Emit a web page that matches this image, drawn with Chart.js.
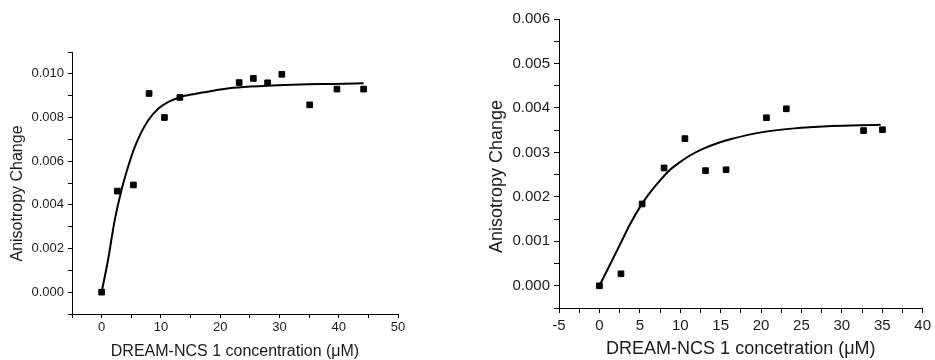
<!DOCTYPE html>
<html>
<head>
<meta charset="utf-8">
<script src="https://cdn.jsdelivr.net/npm/chart.js@4.4.1/dist/chart.umd.min.js"></script>
<style>
  html, body { margin: 0; padding: 0; background: #fff; overflow: hidden; }
  #wrap { position: relative; width: 935px; height: 360px; }
  canvas { position: absolute; top: 0; }
  #left { left: 0; }
  #right { left: 467px; }
</style>
</head>
<body>
<div id="wrap">
  <canvas id="left" width="467" height="360"></canvas>
  <canvas id="right" width="468" height="360"></canvas>
</div>
<script>
// panel 1: DREAM-NCS 1 concentration vs anisotropy change
const leftConc = [0, 2.65, 5.36, 8.0, 10.6, 13.2, 23.2, 25.6, 28.0, 30.4, 35.1, 39.7, 44.2];
const leftAniso = [0, 0.00463, 0.00491, 0.00910, 0.00800, 0.00892, 0.00960, 0.00979, 0.00959, 0.00998, 0.00858, 0.00930, 0.00930];
const leftFitX = [0, 1.07, 2.2, 3.33, 4.45, 5.58, 6.71, 7.84, 9.53, 11.2, 13.2, 15.7, 17.4, 22.2, 27.9, 33.5, 39.1, 44.2];
const leftFitY = [0, 0.00146, 0.00329, 0.00466, 0.00573, 0.00664, 0.00733, 0.00786, 0.00840, 0.00870, 0.00893, 0.00908, 0.00916, 0.00936, 0.00945, 0.00951, 0.00954, 0.00957];

// panel 2
const rightConc = [0, 2.67, 5.29, 8.0, 10.58, 13.13, 15.67, 20.67, 23.13, 32.69, 35.03];
const rightAniso = [0, 0.00027, 0.00184, 0.00265, 0.00331, 0.00259, 0.00261, 0.00378, 0.00398, 0.00349, 0.00351];
const rightFitX = [0, 1.35, 2.58, 3.81, 5.05, 6.28, 7.51, 8.74, 9.97, 11.2, 12.8, 14.5, 16.3, 20.0, 24.1, 28.2, 32.3, 34.8];
const rightFitY = [0, 0.00049, 0.00094, 0.00139, 0.00178, 0.00210, 0.00237, 0.00261, 0.00278, 0.00293, 0.00308, 0.00320, 0.00330, 0.00345, 0.00354, 0.00359, 0.00361, 0.00362];

const yTitle = 'Anisotropy Change';
const leftXTitle = 'DREAM-NCS 1 concentration (\u03BCM)';
const rightXTitle = 'DREAM-NCS 1 concetration (\u03BCM)';

const FONT = '"Liberation Sans", Arial, sans-serif';
Chart.defaults.font.family = FONT;
Chart.defaults.color = '#1a1a1a';

// vertical axis title, drawn by hand so it can sit a bit below the axis middle
const sideTitle = {
  id: 'sideTitle',
  afterDraw(chart, args, o) {
    const ctx = chart.ctx;
    ctx.save();
    ctx.translate(o.x, o.y);
    ctx.rotate(-Math.PI / 2);
    ctx.textAlign = 'center';
    ctx.textBaseline = 'middle';
    ctx.font = o.size + 'px ' + FONT;
    ctx.fillStyle = '#1a1a1a';
    ctx.fillText(o.text, 0, 0);
    ctx.restore();
  }
};

function toPoints(xs, ys) {
  return xs.map((x, i) => ({ x: x, y: ys[i] }));
}

function makePanel(canvasId, opts) {
  const axisGrid = {
    drawOnChartArea: false,
    drawTicks: true,
    tickLength: opts.tickLen,
    color: '#000',
    lineWidth: 1
  };
  const axisBorder = { display: true, color: '#000', width: 1 };

  return new Chart(document.getElementById(canvasId), {
    type: 'scatter',
    data: {
      datasets: [
        {
          data: toPoints(opts.xs, opts.ys),
          pointStyle: 'rect',
          pointRadius: 4,
          pointBackgroundColor: '#000',
          pointBorderColor: '#000',
          pointBorderWidth: 1,
          showLine: false
        },
        {
          data: toPoints(opts.fitX, opts.fitY),
          showLine: true,
          borderColor: '#000',
          borderWidth: 2,
          pointRadius: 0,
          fill: false,
          cubicInterpolationMode: 'monotone'
        }
      ]
    },
    plugins: [sideTitle],
    options: {
      responsive: false,
      animation: false,
      devicePixelRatio: 1,
      layout: { padding: opts.padding },
      plugins: {
        legend: { display: false },
        tooltip: { enabled: false },
        sideTitle: { text: yTitle, size: opts.titleSize, x: opts.yTitleX, y: opts.yTitleY }
      },
      scales: {
        x: {
          type: 'linear',
          min: opts.xMin,
          max: opts.xMax,
          grid: axisGrid,
          border: axisBorder,
          ticks: {
            stepSize: opts.xStep,
            autoSkip: false,
            maxRotation: 0,
            padding: opts.xTickPad,
            font: { size: opts.tickSize },
            callback: v => (Math.abs(v % opts.xMajor) < 1e-9 ? String(v) : '')
          },
          title: {
            display: true,
            text: opts.xTitle,
            font: { size: opts.titleSize, lineHeight: 1 },
            padding: 0
          },
          afterFit: s => { s.height = opts.xHeight; }
        },
        y: {
          type: 'linear',
          min: opts.yMin,
          max: opts.yMax,
          grid: axisGrid,
          border: axisBorder,
          ticks: {
            stepSize: opts.yStep,
            autoSkip: false,
            padding: 4,
            font: { size: opts.tickSize },
            callback: v => {
              const n = Math.round(v / opts.yStep);
              return n % 2 === 0 ? v.toFixed(3) : '';
            }
          },
          afterFit: s => { s.width = opts.yWidth; }
        }
      }
    }
  });
}

makePanel('left', {
  xs: leftConc, ys: leftAniso, fitX: leftFitX, fitY: leftFitY,
  xMin: -5, xMax: 50, xStep: 5, xMajor: 10, xTickPad: 2,
  yMin: -0.001, yMax: 0.011, yStep: 0.001,
  xTitle: leftXTitle,
  tickSize: 13, titleSize: 16, tickLen: 4,
  yTitleX: 17.5, yTitleY: 193.5,
  padding: { left: 8, top: 52, right: 69, bottom: 0 },
  yWidth: 64, xHeight: 46
});

makePanel('right', {
  xs: rightConc, ys: rightAniso, fitX: rightFitX, fitY: rightFitY,
  xMin: -5, xMax: 40, xStep: 2.5, xMajor: 5, xTickPad: 4,
  yMin: -0.0005, yMax: 0.006, yStep: 0.0005,
  xTitle: rightXTitle,
  tickSize: 15, titleSize: 18, tickLen: 5,
  yTitleX: 30.5, yTitleY: 176.5,
  padding: { left: 21, top: 19, right: 10, bottom: 2 },
  yWidth: 71, xHeight: 50
});
</script>
</body>
</html>
